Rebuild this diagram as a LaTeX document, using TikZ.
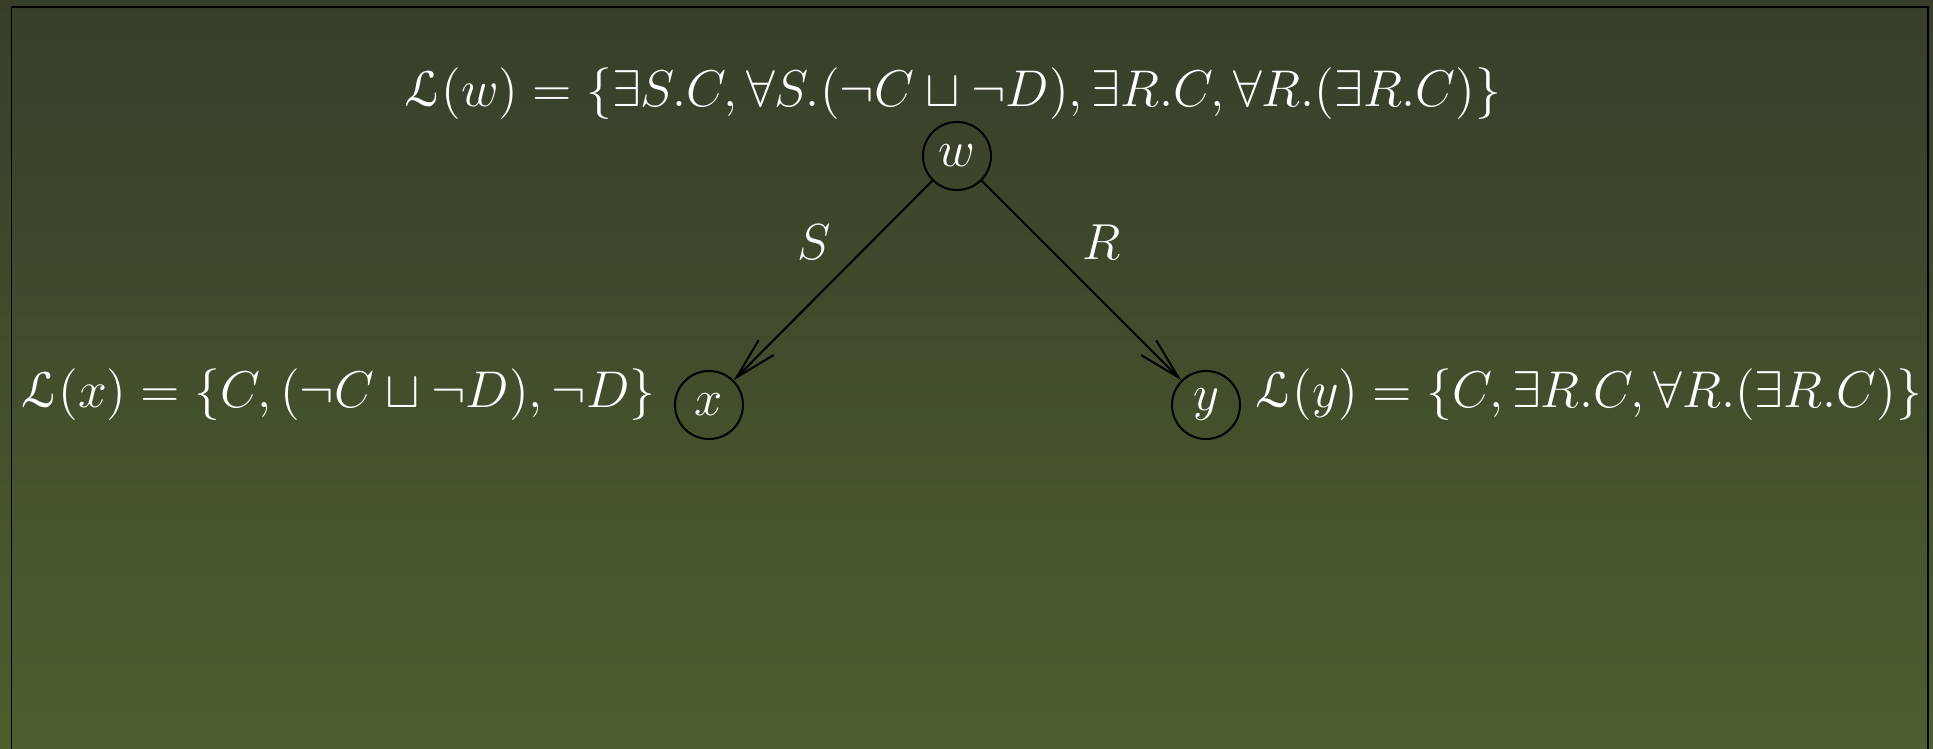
\documentclass[tikz,border=0pt]{standalone}
\usepackage{amsmath,amssymb}
\usepackage[mathcal]{eucal}
\usetikzlibrary{arrows.meta}
\definecolor{bgtop}{RGB}{54,62,42}
\definecolor{bgbot}{RGB}{78,94,46}
\begin{document}
\begin{tikzpicture}[x=0.01cm,y=-0.01cm,font=\Large,
  state/.style={circle,draw=black,line width=0.57pt,minimum size=0.68cm,inner sep=0pt,text=white},
  lab/.style={text=white,inner sep=0pt,scale=1.02,transform shape},
  edgelab/.style={text=white,inner sep=0pt},
  rel/.style={draw=black,line width=0.57pt,-{Straight Barb[length=11.9pt,width=6pt]}}]
\useasboundingbox (0,0) rectangle (1933,749);
\shade[top color=bgtop,bottom color=bgbot] (0,0) rectangle (1933,749);
\begin{scope}
  \clip (0,0) rectangle (1933,749);
  \draw[line width=0.5pt] (11.5,7) rectangle (1928,800);
\end{scope}
\node[state] (w) at (957,156) {$w$};
\node[state] (x) at (709,405) {$x$};
\node[state] (y) at (1206,405) {$y$};
\node[lab] (lw) at (953,94) {$\mathcal{L}(w)=\{\exists S.C,\forall S.(\neg C\sqcup\neg D),\exists R.C,\forall R.(\exists R.C)\}$};
\node[lab,anchor=east] (lx) at (656,395) {$\mathcal{L}(x)=\{C,(\neg C\sqcup\neg D),\neg D\}$};
\node[lab,anchor=west] (ly) at (1255,395) {$\mathcal{L}(y)=\{C,\exists R.C,\forall R.(\exists R.C)\}$};
\draw[rel] (w) -- node[edgelab,midway,xshift=-0.19cm,yshift=0.38cm] {$S$} (x);
\draw[rel] (w) -- node[edgelab,midway,xshift=0.2cm,yshift=0.38cm] {$R$} (y);
\end{tikzpicture}
\end{document}
